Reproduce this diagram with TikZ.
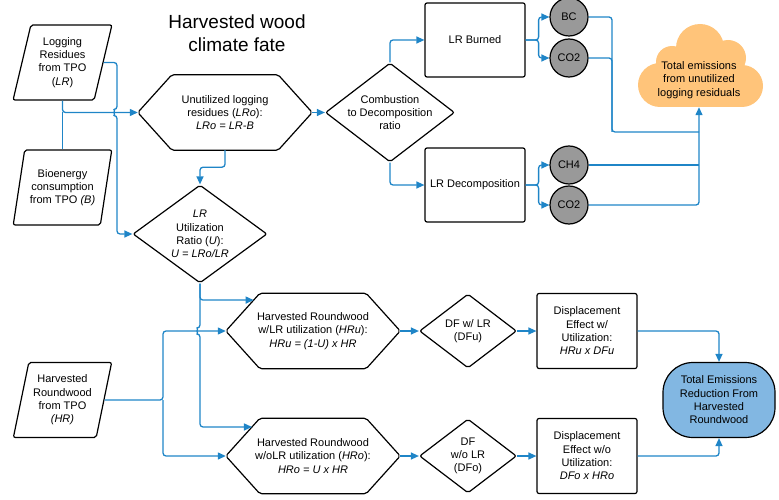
\documentclass[tikz,border=0pt]{standalone}
\usepackage{fontspec}
\setmainfont{Liberation Sans}
\usetikzlibrary{shapes.geometric,arrows.meta,calc}

\definecolor{flowblue}{RGB}{31,133,199}
\definecolor{goalblue}{RGB}{130,183,226}
\definecolor{cloudorange}{RGB}{255,196,122}
\definecolor{gasgray}{RGB}{153,153,153}

\tikzset{
	txt/.style={font=\fontsize{11}{13.3}\selectfont, align=center, inner sep=0pt},
	outline/.style={draw=black, line width=1.2pt, rounded corners=2pt},
	source/.style={txt, outline, trapezium, trapezium left angle=75, trapezium right angle=105,
		trapezium stretches=true, minimum width=99pt, minimum height=75pt},
	hexa/.style={txt, minimum width=174pt, minimum height=75pt},
	ratio/.style={txt, outline, diamond, inner sep=-40pt},
	proc/.style={txt, outline, minimum width=100pt, minimum height=75pt},
	gas/.style={txt, outline, circle, fill=gasgray, minimum size=38pt},
	flow/.style={draw=flowblue, line width=1.3pt, rounded corners=3pt, -{Triangle[length=8pt,width=7pt]}},
	pipe/.style={flow, -}
}

\begin{document}
\begin{tikzpicture}[x=1pt, y=-1pt]
\useasboundingbox (0,0) rectangle (779,500);

%Titel
\node[font=\fontsize{19}{23}\selectfont, align=center] (title) at (237,33) {Harvested wood\\climate fate};

%Eingaben aus TPO
\node[source] (lr) at (62.5,62.5) {Logging\\Residues\\from TPO\\(\textit{LR})};
\node[source] (bio) at (62.5,187.5) {Bioenergy\\consumption\\from TPO \textit{(B)}};
\node[source] (hr) at (62.5,400) {Harvested\\Roundwood\\from TPO\\\textit{(HR)}};

%Sechsecke
\node[hexa] (lro) at (225,112.5) {Unutilized logging\\residues (\textit{LRo}):\\\textit{LRo = LR-B}};
\node[hexa] (hru) at (313,331) {Harvested Roundwood\\w/LR utilization (\textit{HRu}):\\\textit{HRu = (1-U) x HR}};
\node[hexa] (hro) at (313,456) {Harvested Roundwood\\w/oLR utilization (\textit{HRo}):\\\textit{HRo = U x HR}};
\foreach \n in {lro,hru,hro}
{
	\draw[outline] (\n.west) -- ([xshift=34pt]\n.north west) -- ([xshift=-34pt]\n.north east)
		-- (\n.east) -- ([xshift=-34pt]\n.south east) -- ([xshift=34pt]\n.south west) -- cycle;
}

%Verhaeltnisse
\node[ratio, minimum width=129pt, minimum height=99pt] (comb) at (390,112.5) {Combustion\\to Decomposition\\ratio};
\node[ratio, minimum width=134pt, minimum height=98pt] (util) at (200,234) {\textit{LR}\\Utilization\\Ratio (\textit{U}):\\\textit{U = LRo/LR}};
\node[ratio, minimum width=97pt, minimum height=74pt] (dfu) at (468,331) {DF w/ LR\\(DFu)};
\node[ratio, minimum width=97pt, minimum height=74pt] (dfo) at (468,456) {DF\\w/o LR\\(DFo)};

%Prozesse
\node[proc, minimum height=74pt] (burned) at (475,40) {LR Burned};
\node[proc, minimum height=74pt] (decomp) at (475,185) {LR Decomposition};
\node[proc] (dispu) at (587,331) {Displacement\\Effect w/\\Utilization:\\\textit{HRu x DFu}};
\node[proc] (dispo) at (587,456) {Displacement\\Effect w/o\\Utilization:\\\textit{DFo x HRo}};

%Gase
\node[gas] (bc) at (569,17) {BC};
\node[gas] (co2a) at (569,58) {CO2};
\node[gas] (ch4) at (569,165) {CH4};
\node[gas] (co2b) at (569,205) {CO2};

%Ergebnisse
\foreach \x/\y/\r in
{
660/85/22,
672/62/16,
700/48/24,
728/58/18,
742/86/21
}
{
	\fill[cloudorange] (\x,\y) circle[radius=\r];
}
\fill[cloudorange] (660,60) rectangle (742,107);
\node[txt, minimum width=110pt, minimum height=54pt] (cloud) at (699,80) {Total emissions\\from unutilized\\logging residuals};
\node[txt, outline, fill=goalblue, minimum width=112pt, minimum height=75pt, rounded corners=30pt] (total) at (719,400)
	{Total Emissions\\Reduction From\\Harvested\\Roundwood};

%Verbindungen oben
\coordinate (lrbus) at (117,112.5);
\coordinate (gather) at (612,132);
\draw[flow] (lr.center |- lr.south) |- (lro.west);
\draw[pipe] (bio.center |- bio.north) -- (bio.center |- lro.west);
\draw[flow] (lr.east) -| ($(lrbus)+(0,-3)$) arc[start angle=-90, end angle=-270, radius=3] |- (util.west);
\draw[flow] (lro) -- (comb);
\draw[flow] (lro.south) -- ++(0,17) -| (util.north);
\draw[flow] (comb.north) |- (burned.west);
\draw[flow] (comb.south) |- (decomp.west);
\foreach \p/\g in {burned/bc, burned/co2a, decomp/ch4, decomp/co2b}
{
	\draw[flow] (\p.east) -- ++(13,0) |- (\g.west);
}
\draw[pipe] (bc.east) -| (gather) -- (gather -| cloud.south);
\draw[pipe] (co2a.east) -| (gather);
\draw[pipe] (ch4.east) -- (ch4.east -| cloud.south);
\draw[flow] (co2b.east) -| (cloud.south);

%Verbindungen unten
\coordinate (hrbus) at (163,400);
\draw[flow] (util.south) |- ($(hru.west)!0.82!([xshift=34pt]hru.north west)$);
\draw[flow] (util.south) -- ($(util.south |- hru.west)+(0,-3)$) arc[start angle=-90, end angle=-270, radius=3]
	|- ($(hro.west)!0.77!([xshift=34pt]hro.north west)$);
\draw[flow] (hr.east) -- (hrbus) |- (hru.west);
\draw[flow] (hrbus) |- (hro.west);
\draw[flow] (hru) -- (dfu);
\draw[flow] (hro) -- (dfo);
\draw[flow] (dfu) -- (dispu);
\draw[flow] (dfo) -- (dispo);
\draw[flow] (dispu.east) -| (total.north);
\draw[flow] (dispo.east) -| (total.south);

\end{tikzpicture}
\end{document}
